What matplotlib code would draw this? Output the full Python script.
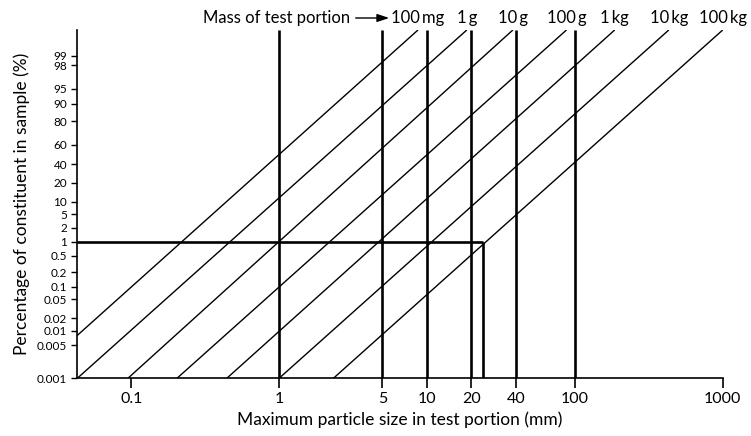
import numpy as np
import matplotlib
matplotlib.use("Agg")
import matplotlib.pyplot as plt
from matplotlib import transforms

plt.rcParams["font.family"] = ["Lato", "DejaVu Sans"]

# one diagonal per test-portion mass, labelled along the top edge
mass_labels = ["100\u2009mg", "1\u2009g", "10\u2009g", "100\u2009g", "1\u2009kg",
               "10\u2009kg", "100\u2009kg"]
# particle size (mm) where each diagonal leaves 0.001 % and where it reaches the top
size_at_bottom = [0.0205, 0.0432, 0.095, 0.204, 0.443, 1.0, 2.33]
size_at_top = [8.7, 18.6, 38.1, 87.8, 186, 432, 1000]

# particle sizes ruled as full-height verticals
size_marks = [1, 5, 10, 20, 40, 100]

# worked example: 1 % constituent, 100 kg portion -> about 24 mm
example_pct = 1
example_size = 24

x_ticks = [0.1, 1, 5, 10, 20, 40, 100, 1000]
x_tick_labels = ["0.1", "1", "5", "10", "20", "40", "100", "1000"]

pct_ticks = [0.001, 0.005, 0.01, 0.02, 0.05, 0.1, 0.2, 0.5, 1, 2, 5,
             10, 20, 40, 60, 80, 90, 95, 98, 99]
pct_tick_labels = ["0.001", "0.005", "0.01", "0.02", "0.05", "0.1", "0.2",
                   "0.5", "1", "2", "5", "10", "20", "40", "60", "80",
                   "90", "95", "98", "99"]

size_min, size_max = 0.043, 1000
pct_min, pct_max = 0.001, 99.9

# the percentage axis is ruled unevenly, so the scale goes through
# these knots (percentage -> height on the paper)
knot_pct = np.array([0.001, 0.005, 0.01, 0.02, 0.05, 0.1, 0.2, 0.5, 1, 2, 5,
                     10, 20, 40, 60, 80, 90, 95, 98, 99, 99.9])
knot_height = np.array([0, 33.3, 47.6, 60, 79, 91.6, 106, 122.3, 136.6,
                        150.3, 163.8, 176.3, 195.3, 213.8, 233.3, 256.8,
                        274.3, 289.3, 312.8, 322.3, 348.3])


def logit10(p):
    p = np.clip(np.asarray(p, dtype=float), 1e-9, 100 - 1e-9)
    return np.log10(p / (100 - p))


knot_z = logit10(knot_pct)


def pct_forward(p):
    return np.interp(logit10(p), knot_z, knot_height)


def pct_inverse(h):
    z = np.interp(np.asarray(h, dtype=float), knot_height, knot_z)
    r = 10 ** z
    return 100 * r / (1 + r)


fig = plt.figure(figsize=(7.51, 4.36), dpi=100)
ax = fig.add_axes([77 / 751, 1 - 378.3 / 436, 645.7 / 751, 348.3 / 436])

ax.set_xscale("log")
ax.set_yscale("function", functions=(pct_forward, pct_inverse))
ax.set_xlim(size_min, size_max)
ax.set_ylim(pct_min, pct_max)

# mass diagonals
for lo, hi in zip(size_at_bottom, size_at_top):
    ax.plot([lo, hi], [pct_min, pct_max], color="black", lw=1.0,
            solid_capstyle="butt")

# full-height size verticals
ax.vlines(size_marks, pct_min, pct_max, colors="black", lw=1.9)

# worked example
ax.hlines(example_pct, size_min, example_size, colors="black", lw=1.9)
ax.vlines(example_size, pct_min, example_pct, colors="black", lw=1.9)

ax.spines["top"].set_visible(False)
ax.spines["right"].set_visible(False)
ax.spines["left"].set_linewidth(1.2)
ax.spines["bottom"].set_linewidth(1.2)

ax.set_xticks(x_ticks)
ax.set_xticklabels(x_tick_labels)
ax.xaxis.set_minor_locator(matplotlib.ticker.NullLocator())
ax.set_yticks(pct_ticks)
ax.set_yticklabels(pct_tick_labels)
ax.yaxis.set_minor_locator(matplotlib.ticker.NullLocator())
ax.tick_params(axis="x", direction="out", length=7, width=1.2, pad=3,
               labelsize=11.5)
ax.tick_params(axis="y", direction="out", length=4, width=1.0, pad=3,
               labelsize=8.5)

ax.set_xlabel("Maximum particle size in test portion (mm)", fontsize=12.5,
              labelpad=4)
ax.set_ylabel("Percentage of constituent in sample (%)", fontsize=12.5,
              labelpad=5)

# mass labels above the top end of each diagonal
top_trans = transforms.blended_transform_factory(ax.transData, ax.transAxes)
for label, hi in zip(mass_labels, size_at_top):
    ax.text(hi, 1.0345, label, transform=top_trans, ha="center",
            va="center", fontsize=12, clip_on=False)

ax.annotate("Mass of test portion", xy=(0.4835, 1.0345),
            xytext=(0.423, 1.0345), xycoords="axes fraction",
            textcoords="axes fraction", ha="right", va="center",
            fontsize=12, annotation_clip=False,
            arrowprops=dict(arrowstyle="-|>,head_length=0.6,head_width=0.2",
                            color="black", lw=1.0, shrinkA=2, shrinkB=0))

fig.savefig("out.png", dpi=100)
